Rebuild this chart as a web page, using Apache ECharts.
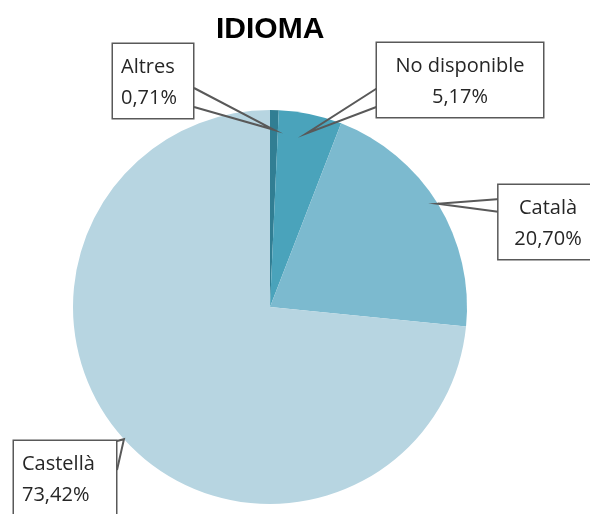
<!DOCTYPE html>
<html>
<head>
<meta charset="utf-8">
<script src="https://cdn.jsdelivr.net/npm/echarts@6/dist/echarts.min.js"></script>
<style>
  html, body { margin: 0; padding: 0; background: #fff; }
  #chart { width: 590px; height: 514px; }
</style>
</head>
<body>
<div id="chart"></div>
<script>
// dades del gràfic
var categories = ["Altres", "No disponible", "Català", "Castellà"];
var values = [0.71, 5.17, 20.70, 73.42];
var colors = ["#317e93", "#4aa3bb", "#7cbacf", "#b7d5e1"];

var pieCenter = [270, 307];
var pieRadius = 197;

// posició de cada etiqueta i base de la fletxa (callout)
var labelPos = [
  { x: 113, y: 44, align: "left", width: 64, tip: 0.9, base: [[194, 88], [194, 107]] },
  { x: 460, y: 43, align: "center", width: 150, tip: 0.9, base: [[379, 87], [379, 106]] },
  { x: 548, y: 185, align: "center", width: null, tip: 1, base: [[500, 199], [500, 212]] },
  { x: 14, y: 441, align: "left", width: 86, tip: 1, base: [[113, 442], [117, 470]] }
];

var myChart = echarts.init(document.getElementById("chart"));

var sliceData = [];
var labelData = [];
for (var i = 0; i < categories.length; i++) {
  sliceData.push({
    name: categories[i],
    value: values[i],
    itemStyle: { color: colors[i] }
  });
  var lbl = { align: labelPos[i].align };
  if (labelPos[i].width) lbl.width = labelPos[i].width;
  labelData.push({
    name: categories[i],
    value: values[i],
    label: lbl
  });
}

var option = {
  animation: false,
  title: {
    text: "IDIOMA",
    left: 211,
    top: 10,
    textStyle: {
      fontFamily: "Liberation Sans",
      fontWeight: "bold",
      fontSize: 30,
      color: "#000"
    }
  },
  series: [
    {
      // sectors
      type: "pie",
      z: 2,
      center: pieCenter,
      radius: [0, pieRadius],
      startAngle: 90,
      clockwise: true,
      data: sliceData,
      label: { show: false },
      labelLine: { show: false }
    },
    {
      // etiquetes (callouts) per sobre del pastís
      type: "pie",
      z: 5,
      silent: true,
      center: pieCenter,
      radius: [0, pieRadius],
      startAngle: 90,
      clockwise: true,
      data: labelData,
      itemStyle: { color: "rgba(0,0,0,0)" },
      label: {
        show: true,
        formatter: function (p) {
          return p.name + "\n" + p.value.toFixed(2).replace(".", ",") + "%";
        },
        overflow: "none",
        fontFamily: "Open Sans",
        fontSize: 20,
        lineHeight: 31,
        color: "#262626",
        backgroundColor: "#fff",
        borderColor: "#595959",
        borderWidth: 1.5,
        padding: [8, 8, 4, 8]
      },
      labelLine: {
        show: true,
        length: 10,
        length2: 10,
        lineStyle: { color: "#595959", width: 2 }
      },
      labelLayout: function (params) {
        var p = labelPos[params.dataIndex];
        var edge = params.labelLinePoints[0];
        var tip = [
          pieCenter[0] + (edge[0] - pieCenter[0]) * p.tip,
          pieCenter[1] + (edge[1] - pieCenter[1]) * p.tip
        ];
        return {
          x: p.x,
          y: p.y,
          verticalAlign: "top",
          align: p.align,
          labelLinePoints: [p.base[0], tip, p.base[1]]
        };
      }
    }
  ]
};
myChart.setOption(option);
</script>
</body>
</html>
